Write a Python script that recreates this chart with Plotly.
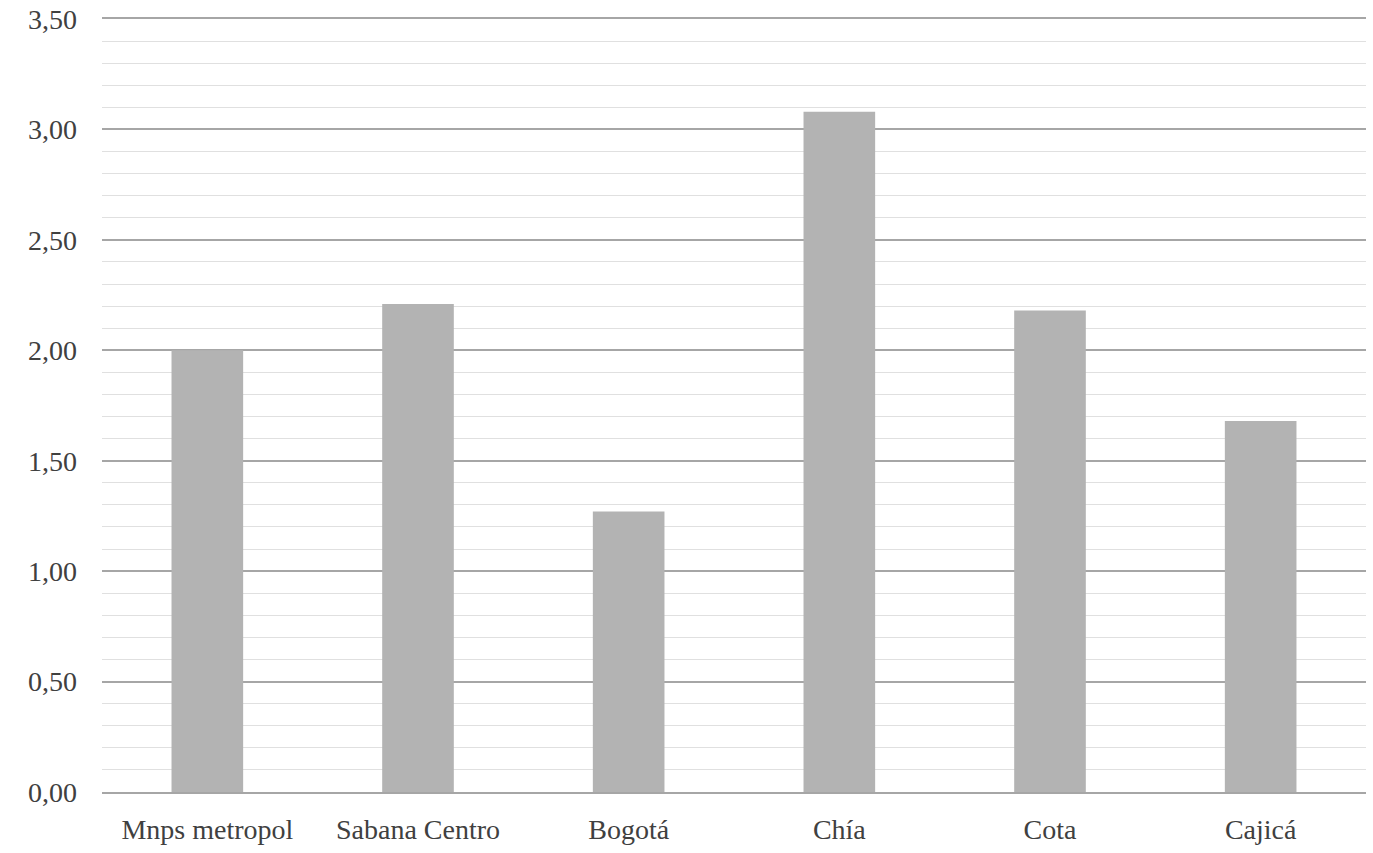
import plotly.graph_objects as go

categories = ["Mnps metropol", "Sabana Centro", "Bogotá", "Chía", "Cota", "Cajicá"]
values = [2.00, 2.21, 1.27, 3.08, 2.18, 1.68]
y_ticks = [0, 0.5, 1.0, 1.5, 2.0, 2.5, 3.0, 3.5]

fig = go.Figure(go.Bar(x=categories, y=values, marker=dict(color="#B3B3B3", line=dict(width=0))))

font = dict(family="Liberation Serif", size=28, color="#404040")
fig.update_layout(
    width=1373, height=853,
    margin=dict(l=102, r=7, t=19, b=61),
    plot_bgcolor="white", paper_bgcolor="white",
    bargap=0.66, separators=",.",
    font=font, showlegend=False,
)
fig.update_yaxes(
    range=[0, 3.5], tickvals=y_ticks, tickformat=".2f",
    showgrid=True, gridcolor="#A6A6A6", gridwidth=1.5,
    minor=dict(dtick=0.1, showgrid=True, gridcolor="#E0E0E0", gridwidth=1),
    zeroline=False, ticks="", ticklen=0, ticklabelstandoff=24, automargin=False,
)
fig.update_xaxes(showline=True, mirror=True, linecolor="#A6A6A6", linewidth=1.5, ticks="",
                 ticklabelstandoff=12, automargin=False)
fig.write_html("out.html", config={"displayModeBar": False},
               post_script="document.body.style.margin='0';")
